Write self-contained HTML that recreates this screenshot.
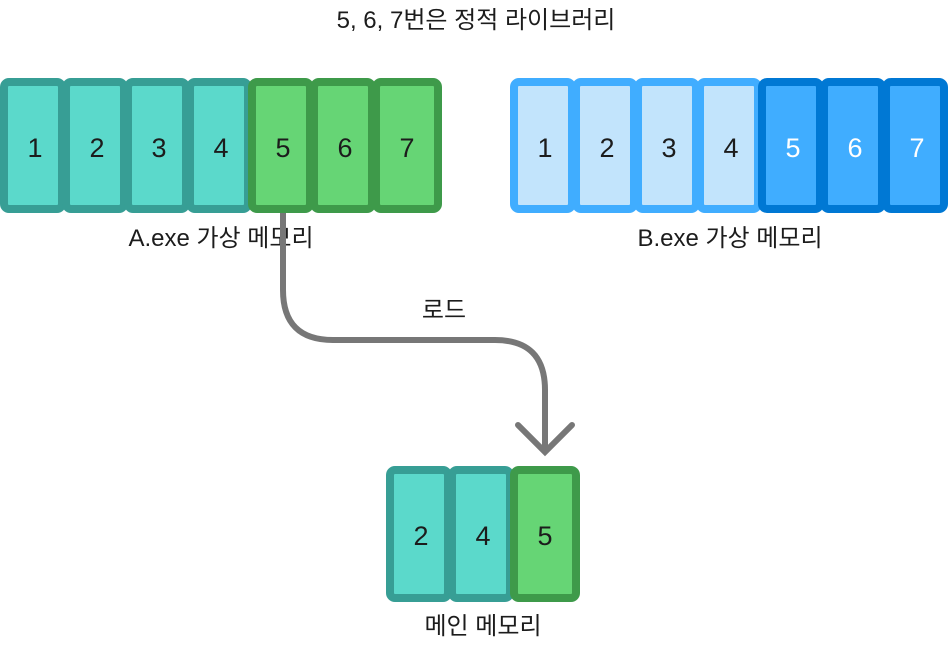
<!DOCTYPE html>
<html><head><meta charset="utf-8"><style>
body{margin:0;background:#fff}
svg text{font-family:"Liberation Sans","Noto Sans CJK KR",sans-serif;fill:#1c1c1c}
</style></head><body>
<svg width="952" height="647" viewBox="0 0 952 647" xmlns="http://www.w3.org/2000/svg">
<text x="476" y="28" font-size="24" text-anchor="middle">5, 6, 7번은 정적 라이브러리</text>
<g stroke-width="8">
<rect x="4" y="82" width="58" height="127" rx="5" fill="#5BD9CB" stroke="#379E95"/>
<rect x="66" y="82" width="58" height="127" rx="5" fill="#5BD9CB" stroke="#379E95"/>
<rect x="128" y="82" width="58" height="127" rx="5" fill="#5BD9CB" stroke="#379E95"/>
<rect x="190" y="82" width="58" height="127" rx="5" fill="#5BD9CB" stroke="#379E95"/>
<rect x="252" y="82" width="58" height="127" rx="5" fill="#66D575" stroke="#3E9A4A"/>
<rect x="314" y="82" width="58" height="127" rx="5" fill="#66D575" stroke="#3E9A4A"/>
<rect x="376" y="82" width="62" height="127" rx="5" fill="#66D575" stroke="#3E9A4A"/>

<rect x="514" y="82" width="58" height="127" rx="5" fill="#C2E4FC" stroke="#40ADFF"/>
<rect x="576" y="82" width="58" height="127" rx="5" fill="#C2E4FC" stroke="#40ADFF"/>
<rect x="638" y="82" width="58" height="127" rx="5" fill="#C2E4FC" stroke="#40ADFF"/>
<rect x="700" y="82" width="58" height="127" rx="5" fill="#C2E4FC" stroke="#40ADFF"/>
<rect x="762" y="82" width="58" height="127" rx="5" fill="#40ADFF" stroke="#0078D4"/>
<rect x="824" y="82" width="58" height="127" rx="5" fill="#40ADFF" stroke="#0078D4"/>
<rect x="886" y="82" width="58" height="127" rx="5" fill="#40ADFF" stroke="#0078D4"/>

<rect x="390" y="470" width="58" height="128" rx="5" fill="#5BD9CB" stroke="#379E95"/>
<rect x="452" y="470" width="58" height="128" rx="5" fill="#5BD9CB" stroke="#379E95"/>
<rect x="514" y="470" width="62" height="128" rx="5" fill="#66D575" stroke="#3E9A4A"/>
</g>
<g font-size="27" text-anchor="middle">
<text x="35" y="157">1</text><text x="97" y="157">2</text><text x="159" y="157">3</text><text x="221" y="157">4</text><text x="283" y="157">5</text><text x="345" y="157">6</text><text x="407" y="157">7</text>
<text x="545" y="157">1</text><text x="607" y="157">2</text><text x="669" y="157">3</text><text x="731" y="157">4</text>
<text x="793" y="157" style="fill:#fff">5</text><text x="855" y="157" style="fill:#fff">6</text><text x="917" y="157" style="fill:#fff">7</text>
<text x="421" y="545">2</text><text x="483" y="545">4</text><text x="545" y="545">5</text>
</g>
<g font-size="24" text-anchor="middle">
<text x="221" y="246">A.exe 가상 메모리</text>
<text x="730" y="246">B.exe 가상 메모리</text>
<text x="444" y="318">로드</text>
<text x="483" y="634">메인 메모리</text>
</g>
<path d="M283 213 V290 Q283 340 333 340 H495 Q545 340 545 390 V450" fill="none" stroke="#777" stroke-width="6"/>
<path d="M518 425 L545 452 L572 425" fill="none" stroke="#777" stroke-width="6" stroke-linecap="round"/>
</svg>
</body></html>
